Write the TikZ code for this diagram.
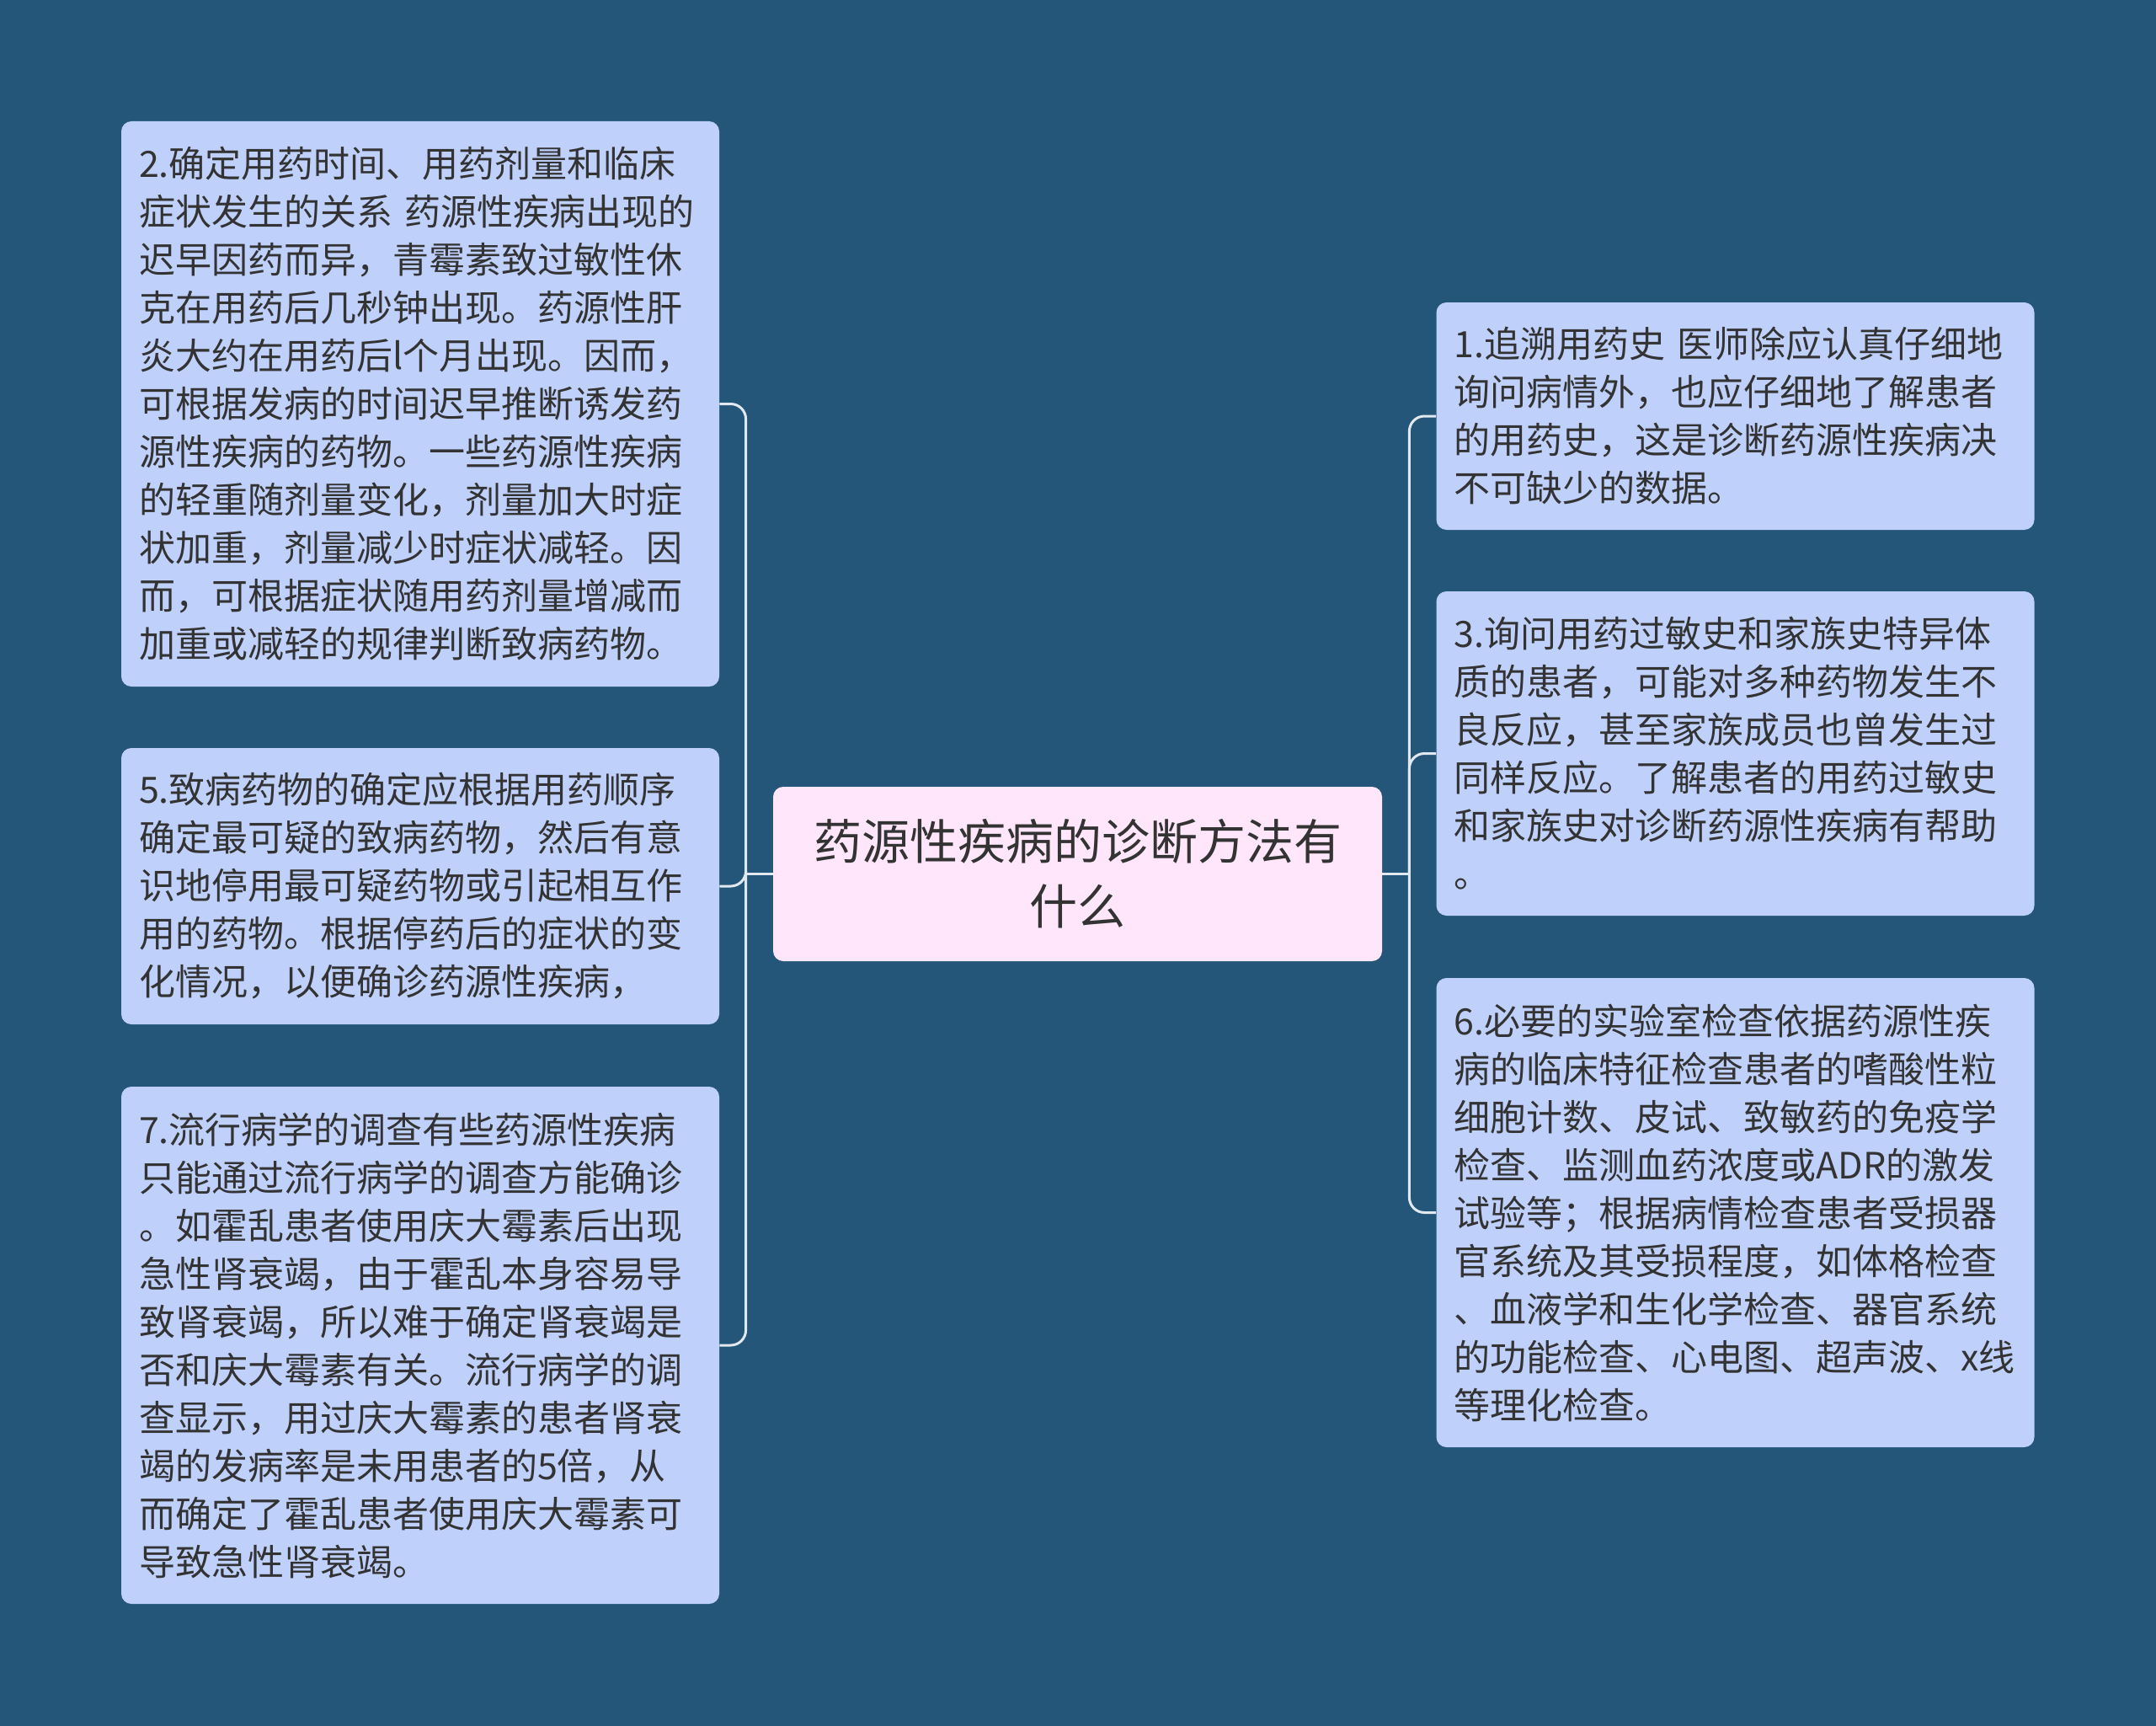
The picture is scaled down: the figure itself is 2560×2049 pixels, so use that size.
\documentclass[tikz,border=0pt]{standalone}
\usepackage{fontspec}
\setmainfont{Noto Sans CJK SC}
\usetikzlibrary{positioning}
\definecolor{mapbg}{RGB}{35,86,121}
\definecolor{leafblue}{RGB}{191,208,251}
\definecolor{topicpink}{RGB}{255,230,251}
\definecolor{inkgray}{RGB}{51,51,51}
\definecolor{linegray}{RGB}{226,232,240}

\begin{document}
\begin{tikzpicture}[x=0.5pt,y=-0.5pt,
  topic/.style={fill=topicpink,rounded corners=6pt,text=inkgray,align=center,
    font=\fontsize{28.5}{38.5}\selectfont,minimum width=361.5pt,minimum height=103.5pt},
  leaf/.style={fill=leafblue,rounded corners=6pt,text=inkgray,align=left,
    font=\fontsize{21.5}{28.5}\selectfont,text width=334pt,inner xsep=10.5pt,inner ysep=0pt},
  link/.style={draw=linegray,line width=1.5pt}]
  \fill[mapbg](0,0)rectangle(2560,2049);

  \node[topic](center)at(1279.5,1037.5){药源性疾病的诊断方法有\\什么};

  % left side
  \node[leaf,minimum height=335.5pt](L1)at(499,479.5){2.确定用药时间、用药剂量和临床\\症状发生的关系~药源性疾病出现的\\迟早因药而异，青霉素致过敏性休\\克在用药后几秒钟出现。药源性肝\\炎大约在用药后l个月出现。因而，\\可根据发病的时间迟早推断诱发药\\源性疾病的药物。一些药源性疾病\\的轻重随剂量变化，剂量加大时症\\状加重，剂量减少时症状减轻。因\\而，可根据症状随用药剂量增减而\\加重或减轻的规律判断致病药物。};
  \node[leaf,minimum height=164pt](L2)at(499,1052){5.致病药物的确定应根据用药顺序\\确定最可疑的致病药物，然后有意\\识地停用最可疑药物或引起相互作\\用的药物。根据停药后的症状的变\\化情况，以便确诊药源性疾病，};
  \node[leaf,minimum height=307pt](L3)at(499,1597){7.流行病学的调查有些药源性疾病\\只能通过流行病学的调查方能确诊\\。如霍乱患者使用庆大霉素后出现\\急性肾衰竭，由于霍乱本身容易导\\致肾衰竭，所以难于确定肾衰竭是\\否和庆大霉素有关。流行病学的调\\查显示，用过庆大霉素的患者肾衰\\竭的发病率是未用患者的5倍，从\\而确定了霍乱患者使用庆大霉素可\\导致急性肾衰竭。};

  % right side
  \node[leaf,minimum height=135pt](R1)at(2060.5,494){1.追溯用药史~医师除应认真仔细地\\询问病情外，也应仔细地了解患者\\的用药史，这是诊断药源性疾病决\\不可缺少的数据。};
  \node[leaf,minimum height=192.5pt](R2)at(2060.5,894.5){3.询问用药过敏史和家族史特异体\\质的患者，可能对多种药物发生不\\良反应，甚至家族成员也曾发生过\\同样反应。了解患者的用药过敏史\\和家族史对诊断药源性疾病有帮助\\。};
  \node[leaf,minimum height=278.5pt](R3)at(2060.5,1439.5){6.必要的实验室检查依据药源性疾\\病的临床特征检查患者的嗜酸性粒\\细胞计数、皮试、致敏药的免疫学\\检查、监测血药浓度或ADR的激发\\试验等；根据病情检查患者受损器\\官系统及其受损程度，如体格检查\\、血液学和生化学检查、器官系统\\的功能检查、心电图、超声波、x线\\等理化检查。};

  \coordinate[left=16pt of center.west](lj);
  \coordinate[right=16pt of center.east](rj);
  \draw[link](center.west)--(lj);
  \draw[link](center.east)--(rj);
  \foreach \n in {L1,L2,L3} { \draw[link,rounded corners=9pt](lj)|-(\n.east); }
  \foreach \n in {R1,R2,R3} { \draw[link,rounded corners=9pt](rj)|-(\n.west); }
\end{tikzpicture}
\end{document}
